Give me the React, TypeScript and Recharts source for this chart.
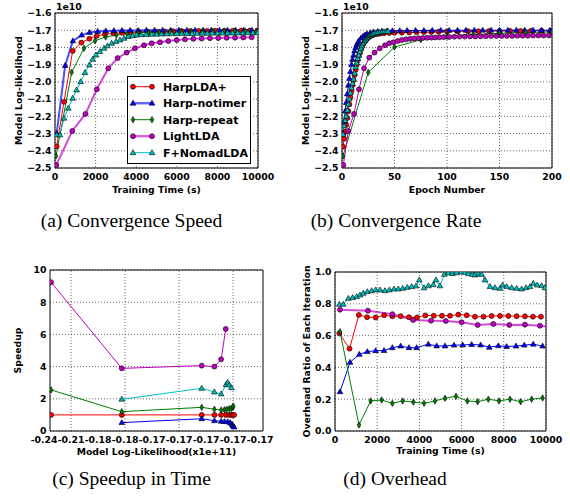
import { LineChart, Line, XAxis, YAxis, CartesianGrid, ReferenceArea, ReferenceLine } from 'recharts';

type Pt = [number, number];
type Shape = 'o' | '^' | 'd';

// (a) training time (s) vs model log-likelihood (x1e10)
const speedHarp: Pt[] = [[82,-2.375],[443,-2.115],[870,-1.82],[1297,-1.772],[1691,-1.749],[2053,-1.733],[2463,-1.724],[2880,-1.718],[3300,-1.715],[3720,-1.712],[4140,-1.71],[4560,-1.709],[4980,-1.708],[5400,-1.707],[5820,-1.706],[6240,-1.705],[6660,-1.705],[7080,-1.704],[7500,-1.704],[7920,-1.703],[8340,-1.703],[8760,-1.703],[9180,-1.702],[9600,-1.702],[9980,-1.702]];
const speedNotimer: Pt[] = [[82,-2.3],[500,-1.905],[880,-1.762],[1314,-1.728],[1700,-1.713],[2100,-1.707],[2500,-1.704],[2900,-1.703],[3300,-1.702],[3700,-1.701],[4100,-1.701],[4500,-1.7],[4900,-1.7],[5300,-1.7],[5700,-1.7],[6100,-1.7],[6500,-1.7],[6900,-1.7],[7300,-1.7],[7700,-1.7],[8100,-1.7],[8500,-1.7],[8900,-1.7],[9300,-1.7],[9700,-1.7]];
const speedRepeat: Pt[] = [[49,-2.43],[821,-1.944],[1429,-1.805],[1970,-1.761],[2496,-1.739],[3020,-1.728],[3550,-1.721],[4080,-1.716],[4610,-1.713],[5140,-1.711],[5670,-1.71],[6200,-1.709],[6730,-1.708],[7260,-1.707],[7790,-1.706],[8320,-1.706],[8850,-1.705],[9380,-1.705],[9910,-1.705]];
const speedLight: Pt[] = [[60,-2.483],[850,-2.285],[1500,-2.186],[2060,-2.043],[2627,-1.921],[3087,-1.862],[3530,-1.83],[3941,-1.805],[4384,-1.787],[4762,-1.776],[5172,-1.77],[5583,-1.763],[5993,-1.757],[6404,-1.753],[6814,-1.75],[7225,-1.748],[7635,-1.746],[8046,-1.745],[8456,-1.744],[8867,-1.743],[9278,-1.742],[9688,-1.741]];
const speedNomad: Pt[] = [[82,-2.308],[246,-2.308],[443,-2.211],[657,-2.153],[870,-2.095],[1067,-2.047],[1264,-1.999],[1478,-1.946],[1691,-1.902],[1855,-1.869],[2020,-1.844],[2217,-1.824],[2414,-1.805],[2578,-1.791],[2791,-1.776],[3005,-1.766],[3202,-1.757],[3399,-1.747],[3612,-1.737],[3826,-1.732],[4023,-1.728],[4250,-1.726],[4500,-1.725],[4750,-1.724],[5000,-1.723],[5250,-1.722],[5500,-1.721],[5750,-1.721],[6000,-1.72],[6250,-1.72],[6500,-1.719],[6750,-1.719],[7000,-1.718],[7250,-1.718],[7500,-1.718],[7750,-1.717],[8000,-1.717],[8250,-1.717],[8500,-1.716],[8750,-1.716],[9000,-1.716],[9250,-1.716],[9500,-1.715],[9750,-1.715],[9980,-1.715]];

// (b) epoch vs model log-likelihood (x1e10)
const rateHarp: Pt[] = [[1,-2.376],[2,-2.33],[3,-2.29],[4,-2.25],[5,-2.21],[6,-2.17],[7,-2.13],[8,-2.09],[9,-2.055],[10,-2.02],[11,-1.99],[12,-1.96],[13,-1.93],[14,-1.9],[15,-1.875],[16,-1.85],[17,-1.83],[18,-1.81],[19,-1.795],[20,-1.782],[22,-1.762],[24,-1.748],[26,-1.738],[28,-1.731],[30,-1.727],[33,-1.723],[36,-1.72],[40,-1.718],[45,-1.716],[50,-1.715],[57,-1.714],[64,-1.713],[71,-1.712],[78,-1.711],[85,-1.71],[92,-1.709],[100,-1.708],[110,-1.707],[120,-1.706],[130,-1.706],[140,-1.705],[150,-1.705],[160,-1.704],[170,-1.704],[180,-1.703],[190,-1.703],[199,-1.703]];
const rateNotimer: Pt[] = [[1,-2.3],[2,-2.23],[3,-2.17],[4,-2.12],[5,-2.07],[6,-2.02],[7,-1.98],[8,-1.94],[9,-1.9],[10,-1.87],[11,-1.845],[12,-1.82],[13,-1.8],[14,-1.785],[15,-1.772],[16,-1.762],[18,-1.746],[20,-1.735],[22,-1.727],[24,-1.72],[27,-1.714],[30,-1.71],[34,-1.707],[38,-1.705],[43,-1.704],[48,-1.703],[55,-1.703],[62,-1.702],[70,-1.702],[78,-1.702],[86,-1.701],[94,-1.701],[102,-1.701],[110,-1.701],[118,-1.7],[126,-1.7],[134,-1.7],[142,-1.7],[150,-1.7],[158,-1.7],[166,-1.7],[174,-1.7],[182,-1.7],[190,-1.7],[198,-1.7]];
const rateRepeat: Pt[] = [[1,-2.43],[25,-1.945],[50,-1.798],[75,-1.755],[100,-1.735],[125,-1.725],[150,-1.718],[175,-1.713],[200,-1.71]];
const rateLight: Pt[] = [[1.3,-2.483],[6,-2.285],[11.4,-2.186],[16.2,-2.043],[21,-1.921],[26,-1.859],[31,-1.83],[36,-1.805],[41,-1.787],[45,-1.776],[49,-1.77],[53,-1.763],[57,-1.757],[61,-1.753],[65,-1.75],[69,-1.748],[73,-1.746],[77,-1.745],[81,-1.744],[85,-1.743],[89,-1.742],[93,-1.741],[97,-1.74],[102,-1.739],[107,-1.738],[112,-1.737],[117,-1.737],[122,-1.736],[127,-1.736],[132,-1.735],[137,-1.735],[142,-1.734],[147,-1.734],[152,-1.733],[157,-1.733],[162,-1.733],[167,-1.732],[172,-1.732],[177,-1.732],[182,-1.731],[187,-1.731],[192,-1.731],[197,-1.73]];
const rateNomad: Pt[] = [[1,-2.305],[2,-2.255],[3,-2.225],[4,-2.2],[5,-2.165],[6,-2.13],[7,-2.1],[8,-2.065],[9,-2.035],[10,-2.01],[11,-1.985],[12,-1.95],[13,-1.915],[14,-1.89],[15,-1.865],[16,-1.845],[17,-1.825],[18,-1.805],[19,-1.79],[20,-1.778],[21,-1.768],[22,-1.76],[23,-1.752],[24,-1.745],[25,-1.739],[26,-1.734],[27,-1.73],[28,-1.727],[29,-1.723],[30,-1.721],[32,-1.718],[34,-1.715],[36,-1.713],[38,-1.711],[40,-1.709],[42,-1.708],[44,-1.707]];

// (c) speedup vs model log-likelihood; x is the position along the tick label sequence
const upHarp: Pt[] = [[0.26,1],[2.88,1],[5.84,1],[6.31,1],[6.56,1],[6.74,1],[6.86,1],[6.94,1],[6.99,1],[7.04,1]];
const upNotimer: Pt[] = [[2.88,0.52],[5.84,0.76],[6.31,0.64],[6.56,0.6],[6.68,0.59],[6.8,0.57],[6.89,0.52],[6.95,0.44],[6.99,0.36],[7.01,0.3],[7.04,0.25]];
const upRepeat: Pt[] = [[0.26,2.55],[2.88,1.2],[5.84,1.47],[6.31,1.35],[6.56,1.3],[6.68,1.32],[6.77,1.35],[6.86,1.38],[6.93,1.4],[6.99,1.45],[7.01,1.55]];
const upLight: Pt[] = [[0.26,9.24],[2.88,3.89],[5.84,4.06],[6.31,4.0],[6.56,4.45],[6.73,6.34]];
const upNomad: Pt[] = [[2.88,1.97],[5.84,2.65],[6.31,2.42],[6.56,2.3],[6.74,2.88],[6.8,3.02],[6.86,2.86],[6.94,2.69]];
const upTickLabels = ['-0.24', '-0.21', '-0.18', '-0.18', '-0.17', '-0.17', '-0.17', '-0.17', '-0.17'];
const upXTicks = [0, 1, 2, 3, 4, 5, 6, 7, 8];
const upXGrid = [1, 3, 5, 7];

// (d) training time (s) vs overhead ratio
const ovHarp: Pt[] = [[205,0.614],[690,0.518],[1130,0.73],[1520,0.716],[1927,0.714],[2330,0.728],[2717,0.721],[3112,0.722],[3507,0.716],[3890,0.714],[4280,0.727],[4680,0.725],[5070,0.725],[5450,0.725],[5845,0.732],[6240,0.728],[6634,0.719],[7040,0.719],[7424,0.724],[7819,0.724],[8213,0.724],[8609,0.722],[9003,0.721],[9380,0.719],[9761,0.719]];
const ovNotimer: Pt[] = [[237,0.247],[711,0.432],[1153,0.482],[1532,0.499],[1927,0.505],[2322,0.506],[2717,0.524],[3112,0.534],[3507,0.524],[3870,0.524],[4423,0.546],[4818,0.535],[5213,0.535],[5640,0.54],[6050,0.541],[6477,0.544],[6903,0.541],[7313,0.527],[7740,0.536],[8135,0.531],[8577,0.534],[8972,0.54],[9398,0.546],[9840,0.534]];
const ovRepeat: Pt[] = [[237,0.625],[1137,0.038],[1690,0.189],[2211,0.195],[2717,0.174],[3207,0.189],[3712,0.182],[4218,0.174],[4739,0.189],[5213,0.206],[5734,0.218],[6271,0.189],[6761,0.184],[7266,0.2],[7772,0.189],[8293,0.2],[8798,0.184],[9319,0.2],[9840,0.208]];
const ovLight: Pt[] = [[237,0.763],[1560,0.757],[2717,0.735],[3700,0.698],[4550,0.694],[5250,0.692],[6003,0.684],[6761,0.667],[7503,0.673],[8261,0.667],[9003,0.669],[9714,0.662],[10300,0.652]];
const ovNomad: Pt[] = [[205,0.797],[395,0.797],[632,0.834],[837,0.839],[1027,0.845],[1185,0.855],[1342,0.866],[1532,0.876],[1737,0.882],[1927,0.887],[2132,0.887],[2369,0.882],[2575,0.887],[2796,0.893],[3001,0.893],[3207,0.897],[3428,0.903],[3633,0.908],[3839,0.912],[3996,0.95],[4217,0.9],[4423,0.913],[4660,0.92],[4786,0.95],[4976,0.913],[5181,0.985],[5370,0.995],[5560,0.99],[5760,0.995],[6003,1.0],[6160,0.998],[6318,0.99],[6500,0.985],[6634,0.981],[6800,0.987],[6950,0.985],[7108,0.95],[7345,0.908],[7582,0.901],[7819,0.897],[7946,0.918],[8135,0.908],[8372,0.901],[8609,0.897],[8846,0.893],[9051,0.901],[9240,0.908],[9398,0.929],[9587,0.918],[9793,0.914],[9951,0.901]];

const timeTicks = [0, 2000, 4000, 6000, 8000, 10000];
const epochTicks = [0, 50, 100, 150, 200];
const llTicks = [-2.5, -2.4, -2.3, -2.2, -2.1, -2.0, -1.9, -1.8, -1.7, -1.6];
const upYTicks = [0, 2, 4, 6, 8, 10];
const ovTicks = [0, 0.2, 0.4, 0.6, 0.8, 1.0];

const SERIES: { name: string; color: string; shape: Shape }[] = [
  { name: 'HarpLDA+', color: '#ff0000', shape: 'o' },
  { name: 'Harp-notimer', color: '#0000ff', shape: '^' },
  { name: 'Harp-repeat', color: '#008000', shape: 'd' },
  { name: 'LightLDA', color: '#bf00bf', shape: 'o' },
  { name: 'F+NomadLDA', color: '#00bfbf', shape: '^' },
];

const FONT = 'DejaVu Sans, sans-serif';
const TICK = { fontSize: 9.3, fontWeight: 700, fontFamily: FONT, fill: '#000' };
const LABEL = { fontSize: 9.3, fontWeight: 700, fontFamily: FONT, fill: '#000' };
const fmtLL = (v: number) => v.toFixed(1).replace('-', '\u2212');

function Marker({ cx, cy, shape, fill }: { cx?: number; cy?: number; shape: Shape; fill: string }) {
  if (cx == null || cy == null || isNaN(cx) || isNaN(cy)) return null;
  if (shape === 'o') return <circle cx={cx} cy={cy} r={2.5} fill={fill} stroke="#000" strokeWidth={0.6} />;
  if (shape === '^') {
    const r = 3;
    return <polygon points={`${cx},${cy - r} ${cx - r * 0.95},${cy + r * 0.65} ${cx + r * 0.95},${cy + r * 0.65}`} fill={fill} stroke="#000" strokeWidth={0.6} />;
  }
  return <polygon points={`${cx},${cy - 3.2} ${cx + 1.8},${cy} ${cx},${cy + 3.2} ${cx - 1.8},${cy}`} fill={fill} stroke="#000" strokeWidth={0.6} />;
}

// thick, faded lines for some series in some panels
function seriesLines(sets: Pt[][], thick: number[] = []) {
  return SERIES.map((s, i) => (
    <Line
      key={s.name}
      data={sets[i].map(([x, y]) => ({ x, y }))}
      dataKey="y"
      type="linear"
      stroke={s.color}
      strokeWidth={thick.includes(i) ? 2 : 1}
      strokeOpacity={thick.includes(i) ? 0.7 : 1}
      dot={(p: any) => <Marker key={`m${i}-${p.index}`} cx={p.cx} cy={p.cy} shape={s.shape} fill={s.color} />}
      activeDot={false}
      isAnimationActive={false}
    />
  ));
}

function LegendBox() {
  return (
    <svg width={124} height={88} style={{ position: 'absolute', left: 127, top: 76 }}>
      <rect x={0.5} y={0.5} width={123} height={87} fill="#fff" stroke="#000" strokeWidth={1} />
      {SERIES.map((s, i) => {
        const cy = 10.7 + i * 16.5;
        const thick = i === 1 || i === 3;
        return (
          <g key={s.name}>
            <line x1={6} x2={25} y1={cy} y2={cy} stroke={s.color} strokeWidth={thick ? 2.5 : 1} strokeOpacity={thick ? 0.6 : 1} />
            <Marker cx={6} cy={cy} shape={s.shape} fill={s.color} />
            <Marker cx={25} cy={cy} shape={s.shape} fill={s.color} />
            <text x={36} y={cy + 4} fontSize={11} fontWeight={700} fontFamily={FONT} fill="#000">{s.name}</text>
          </g>
        );
      })}
    </svg>
  );
}

const grid = <CartesianGrid stroke="#000" strokeDasharray="1 2" strokeWidth={0.6} />;
const dotted = { stroke: '#000', strokeDasharray: '1 2', strokeWidth: 0.6 };

export default function App() {
  return (
    <div style={{ position: 'absolute', left: 0, top: 0, width: 570, height: 496, background: '#fff', overflow: 'hidden' }}>
      {/* (a) */}
      <div style={{ position: 'absolute', left: 0, top: 0 }}>
        <LineChart width={285} height={200} margin={{ top: 13, right: 27, bottom: 0, left: 0 }}>
          {grid}
          <XAxis type="number" dataKey="x" domain={[0, 10000]} ticks={timeTicks} interval={0} allowDataOverflow height={32}
            tickSize={3} tickMargin={2.5} tickLine={false} axisLine={false} tick={TICK}
            label={{ value: 'Training Time (s)', position: 'insideBottom', offset: 6.7, ...LABEL }} />
          <YAxis type="number" domain={[-2.5, -1.6]} ticks={llTicks} interval={0} allowDataOverflow width={55}
            tickSize={2} tickMargin={1.5} tickLine={false} axisLine={false} tick={TICK} tickFormatter={fmtLL}
            label={{ value: 'Model Log-likelihood', angle: -90, position: 'insideLeft', offset: 19, ...LABEL, style: { textAnchor: 'middle' } }} />
          <ReferenceArea x1={0} x2={10000} y1={-2.5} y2={-1.6} fill="none" stroke="#000" strokeWidth={1} ifOverflow="visible" />
          {seriesLines([speedHarp, speedNotimer, speedRepeat, speedLight, speedNomad], [1, 3])}
        </LineChart>
        <div style={{ position: 'absolute', left: 56, top: 1, fontSize: 9.3, fontWeight: 700, fontFamily: FONT }}>1e10</div>
      </div>
      <LegendBox />

      {/* (b) */}
      <div style={{ position: 'absolute', left: 285, top: 0 }}>
        <LineChart width={285} height={200} margin={{ top: 13, right: 18, bottom: 0, left: 0 }}>
          {grid}
          <XAxis type="number" dataKey="x" domain={[0, 200]} ticks={epochTicks} interval={0} allowDataOverflow height={32}
            tickSize={3} tickMargin={2.5} tickLine={false} axisLine={false} tick={TICK}
            label={{ value: 'Epoch Number', position: 'insideBottom', offset: 7.3, ...LABEL }} />
          <YAxis type="number" domain={[-2.5, -1.6]} ticks={llTicks} interval={0} allowDataOverflow width={57}
            tickSize={2} tickMargin={1.5} tickLine={false} axisLine={false} tick={TICK} tickFormatter={fmtLL}
            label={{ value: 'Model Log-likelihood', angle: -90, position: 'insideLeft', offset: 20.7, ...LABEL, style: { textAnchor: 'middle' } }} />
          <ReferenceArea x1={0} x2={200} y1={-2.5} y2={-1.6} fill="none" stroke="#000" strokeWidth={1} ifOverflow="visible" />
          {seriesLines([rateHarp, rateNotimer, rateRepeat, rateLight, rateNomad])}
        </LineChart>
        <div style={{ position: 'absolute', left: 58, top: 1, fontSize: 9.3, fontWeight: 700, fontFamily: FONT }}>1e10</div>
      </div>

      {/* (c) */}
      <div style={{ position: 'absolute', left: 0, top: 250 }}>
        <LineChart width={285} height={210} margin={{ top: 20, right: 22, bottom: 0, left: 0 }}>
          <CartesianGrid stroke="#000" strokeDasharray="1 2" strokeWidth={0.6} vertical={false} />
          <XAxis type="number" dataKey="x" domain={[0.22, 8.11]} ticks={upXTicks} interval={0} allowDataOverflow height={29}
            tickSize={3} tickMargin={2} tickLine={false} axisLine={false} tick={TICK}
            tickFormatter={(v: number) => upTickLabels[v] ?? ''}
            label={{ value: 'Model Log-Likelihood(x1e+11)', position: 'insideBottom', offset: 5.3, ...LABEL }} />
          <YAxis type="number" domain={[0, 10]} ticks={upYTicks} interval={0} allowDataOverflow width={50}
            tickSize={2} tickMargin={1.5} tickLine={false} axisLine={false} tick={TICK}
            label={{ value: 'Speedup', angle: -90, position: 'insideLeft', offset: 18, ...LABEL, style: { textAnchor: 'middle' } }} />
          {upXGrid.map(v => <ReferenceLine key={v} x={v} {...dotted} />)}
          <ReferenceArea x1={0.22} x2={8.11} y1={0} y2={10} fill="none" stroke="#000" strokeWidth={1} ifOverflow="visible" />
          {seriesLines([upHarp, upNotimer, upRepeat, upLight, upNomad])}
        </LineChart>
      </div>

      {/* (d) */}
      <div style={{ position: 'absolute', left: 285, top: 250 }}>
        <LineChart width={285} height={210} margin={{ top: 22, right: 24, bottom: 0, left: 0 }}>
          {grid}
          <XAxis type="number" dataKey="x" domain={[0, 10000]} ticks={timeTicks} interval={0} allowDataOverflow height={29}
            tickSize={3} tickMargin={2} tickLine={false} axisLine={false} tick={TICK}
            label={{ value: 'Training Time (s)', position: 'insideBottom', offset: 5.7, ...LABEL }} />
          <YAxis type="number" domain={[0, 1]} ticks={ovTicks} interval={0} allowDataOverflow width={50}
            tickSize={2} tickMargin={1.5} tickLine={false} axisLine={false} tick={TICK} tickFormatter={(v: number) => v.toFixed(1)}
            label={{ value: 'Overhead Ratio of Each Iteration', angle: -90, position: 'insideLeft', offset: 21.7, ...LABEL, style: { textAnchor: 'middle' } }} />
          <ReferenceArea x1={0} x2={10000} y1={0} y2={1} fill="none" stroke="#000" strokeWidth={1} ifOverflow="visible" />
          {seriesLines([ovHarp, ovNotimer, ovRepeat, ovLight, ovNomad], [3])}
        </LineChart>
      </div>

      <svg width={570} height={496} style={{ position: 'absolute', left: 0, top: 0, pointerEvents: 'none' }}>
        <g fontFamily="Liberation Serif, Times New Roman, serif" fontSize={19.5} fill="#000" textAnchor="middle">
          <text x={131.5} y={227}>(a) Convergence Speed</text>
          <text x={396} y={227}>(b) Convergence Rate</text>
          <text x={131.5} y={485}>(c) Speedup in Time</text>
          <text x={395} y={485}>(d) Overhead</text>
        </g>
      </svg>
    </div>
  );
}
